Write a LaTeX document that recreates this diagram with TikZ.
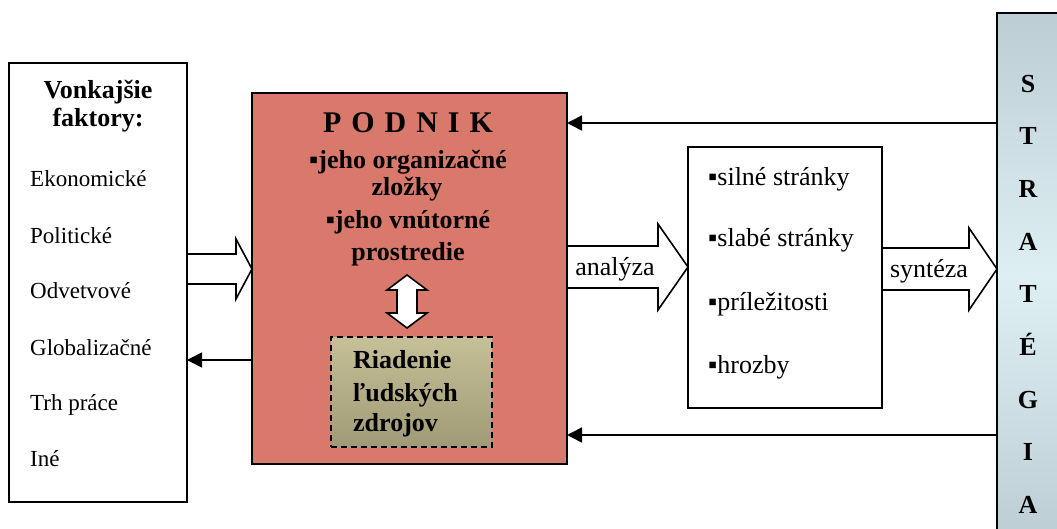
\documentclass[tikz,border=0pt]{standalone}
\usepackage{fontspec}
\setmainfont{Liberation Serif}
\usetikzlibrary{arrows.meta,calc}
\definecolor{podnikfill}{RGB}{216,121,108}
\definecolor{hrtop}{RGB}{198,192,152}
\definecolor{hrbot}{RGB}{160,154,118}
\definecolor{stedge}{RGB}{188,206,212}
\definecolor{stmid}{RGB}{222,239,244}
\tikzset{
  box/.style={draw=black, line width=1.6pt, inner sep=0pt, outer sep=0pt},
  txt/.style={inner sep=0pt, text height=0.7em, text depth=0.22em, yshift=-6pt, font=\fontsize{26}{30}\selectfont},
  txtsm/.style={inner sep=0pt, text height=0.7em, text depth=0.22em, yshift=-6pt, font=\fontsize{23}{27}\selectfont},
  btxt/.style={txt, font=\fontsize{26}{30}\selectfont\bfseries},
  hollow/.style={draw=black, fill=white, line width=1.6pt, line join=miter},
  thin/.style={draw=black, line width=1.6pt, -{Triangle[length=15pt,width=15pt]}},
}
\begin{document}
\begin{tikzpicture}[x=1pt,y=-1pt]
\useasboundingbox (0,0) rectangle (1057,529);

% boxes
\node[box, fill=white, minimum width=178pt, minimum height=439pt] (ext) at (98,282.5) {};
\node[box, fill=podnikfill, minimum width=315pt, minimum height=371pt] (podnik) at (409.5,278.5) {};
\node[box, dashed, dash pattern=on 6pt off 4pt, top color=hrtop, bottom color=hrbot, minimum width=161pt, minimum height=110pt] (hr) at (411.5,392) {};
\node[box, fill=white, minimum width=194pt, minimum height=261pt] (swot) at (785,277.5) {};
\node[box, top color=stedge, bottom color=stedge, middle color=stmid, minimum width=73pt, minimum height=527pt] (strat) at (1033.5,276.5) {};

% external factors
\node[btxt] (v1) at (98,90) {Vonkajšie};
\node[btxt] (v2) at (98,118) {faktory:};
\node[txtsm, anchor=west] (f1) at (30,178) {Ekonomické};
\node[txtsm, anchor=west] (f2) at (30,235) {Politické};
\node[txtsm, anchor=west] (f3) at (30,290) {Odvetvové};
\node[txtsm, anchor=west] (f4) at (30,347) {Globalizačné};
\node[txtsm, anchor=west] (f5) at (30,402) {Trh práce};
\node[txtsm, anchor=west] (f6) at (30,458) {Iné};

% podnik texts
\node[txt, font=\fontsize{30}{34}\selectfont\bfseries] (p0) at (408,124) {P\,\,O\,\,D\,\,N\,\,I\,\,K};
\node[btxt] (p1) at (408,160) {▪jeho organizačné};
\node[btxt] (p2) at (407,187) {zložky};
\node[btxt] (p3) at (408,220) {▪jeho vnútorné};
\node[btxt] (p4) at (408,252) {prostredie};

% HR texts
\node[btxt, anchor=west] (r1) at (353,360) {Riadenie};
\node[btxt, anchor=west] (r2) at (353,393) {ľudských};
\node[btxt, anchor=west] (r3) at (353,423) {zdrojov};

% SWOT
\node[txt, anchor=west] (s1) at (708,177) {▪silné stránky};
\node[txt, anchor=west] (s2) at (708,238) {▪slabé stránky};
\node[txt, anchor=west] (s3) at (708,302) {▪príležitosti};
\node[txt, anchor=west] (s4) at (708,365) {▪hrozby};

% strategy letters
\foreach \l [count=\i] in {S,T,R,A,T,É,G,I,A}{
  \node[btxt] (st\i) at (1028,{84+52.6*(\i-1)}) {\l};
}

% double arrow between podnik text and HR box
\coordinate (dt) at (407,275);
\coordinate (db) at (407,328);
\draw[hollow] (dt) -- ($(dt)+(20,15)$) -- ($(dt)+(10,15)$) -- ($(db)+(10,-15)$) -- ($(db)+(20,-15)$)
  -- (db) -- ($(db)+(-20,-15)$) -- ($(db)+(-10,-15)$) -- ($(dt)+(-10,15)$) -- ($(dt)+(-20,15)$) -- cycle;

% hollow arrow ext -> podnik
\coordinate (aS) at (ext.east |- 0,269);
\coordinate (aT) at (podnik.west |- 0,269);
\draw[hollow] ($(aS)+(0,-15)$) -- ($(aT)+(-16,-15)$) -- ($(aT)+(-16,-30)$) -- (aT)
  -- ($(aT)+(-16,30)$) -- ($(aT)+(-16,15)$) -- ($(aS)+(0,15)$) -- cycle;

% analyza arrow
\coordinate (bS) at (podnik.east |- 0,267);
\coordinate (bT) at (swot.west |- 0,267);
\draw[hollow] ($(bS)+(0,-21)$) -- ($(bT)+(-30,-21)$) -- ($(bT)+(-30,-43)$) -- (bT)
  -- ($(bT)+(-30,43)$) -- ($(bT)+(-30,21)$) -- ($(bS)+(0,21)$) -- cycle;
\node[txt] (an) at (615,267) {analýza};

% synteza arrow
\coordinate (cS) at (swot.east |- 0,269);
\coordinate (cT) at (strat.west |- 0,269);
\draw[hollow] ($(cS)+(0,-21)$) -- ($(cT)+(-28,-21)$) -- ($(cT)+(-28,-41)$) -- (cT)
  -- ($(cT)+(-28,41)$) -- ($(cT)+(-28,21)$) -- ($(cS)+(0,21)$) -- cycle;
\node[txt] (sy) at (929,269) {syntéza};

% thin arrows
\draw[thin] (strat.west |- 0,123) -- (podnik.east |- 0,123);
\draw[thin] (strat.west |- 0,435) -- (podnik.east |- 0,435);
\draw[thin] (podnik.west |- 0,360) -- (ext.east |- 0,360);
\end{tikzpicture}
\end{document}
